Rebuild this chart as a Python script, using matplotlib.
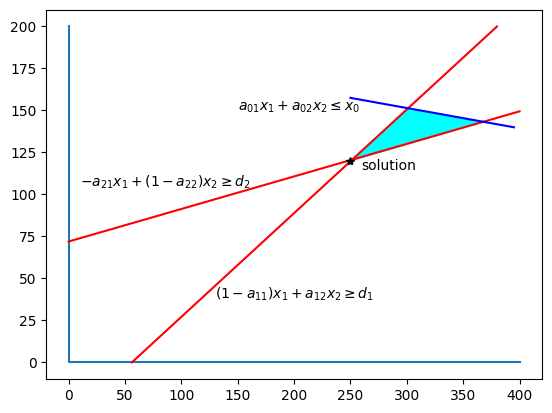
import numpy as np
import matplotlib
matplotlib.use("Agg")
import matplotlib.pyplot as plt

# axis guide lines
axis_x = [0, 0, 400]
axis_y = [200, 0, 0]

# constraint lines
line1_x = [56, 380]
line1_y = [0, 200]
line2_x = [0, 400]
line2_y = [72, 149.5]
line3_x = [250, 395]
line3_y = [157.5, 140]

solution = (250, 120)


def intersect(xa, ya, xb, yb):
    ma = (ya[1] - ya[0]) / (xa[1] - xa[0])
    mb = (yb[1] - yb[0]) / (xb[1] - xb[0])
    ca = ya[0] - ma * xa[0]
    cb = yb[0] - mb * xb[0]
    x = (cb - ca) / (ma - mb)
    return x, ma * x + ca


p13 = intersect(line1_x, line1_y, line3_x, line3_y)
p23 = intersect(line2_x, line2_y, line3_x, line3_y)

fig, ax = plt.subplots()
ax.plot(axis_x, axis_y)
ax.plot(line1_x, line1_y, 'r')
ax.plot(line2_x, line2_y, 'r')
ax.plot(line3_x, line3_y, 'b')
ax.fill([solution[0], p13[0], p23[0]], [solution[1], p13[1], p23[1]], color='cyan')
ax.plot(*solution, 'k*')

ax.text(150, 150, r'$a_{01}x_1+a_{02}x_2\leq x_0$', fontsize=10)
ax.text(260, 115, 'solution', fontsize=10)
ax.text(10, 105, r'$-a_{21}x_1+(1-a_{22})x_2\geq d_2$', fontsize=10)
ax.text(130, 38, r'$(1-a_{11})x_1+a_{12}x_2\geq d_1$', fontsize=10)

plt.savefig('out.png', dpi=100, bbox_inches='tight')
